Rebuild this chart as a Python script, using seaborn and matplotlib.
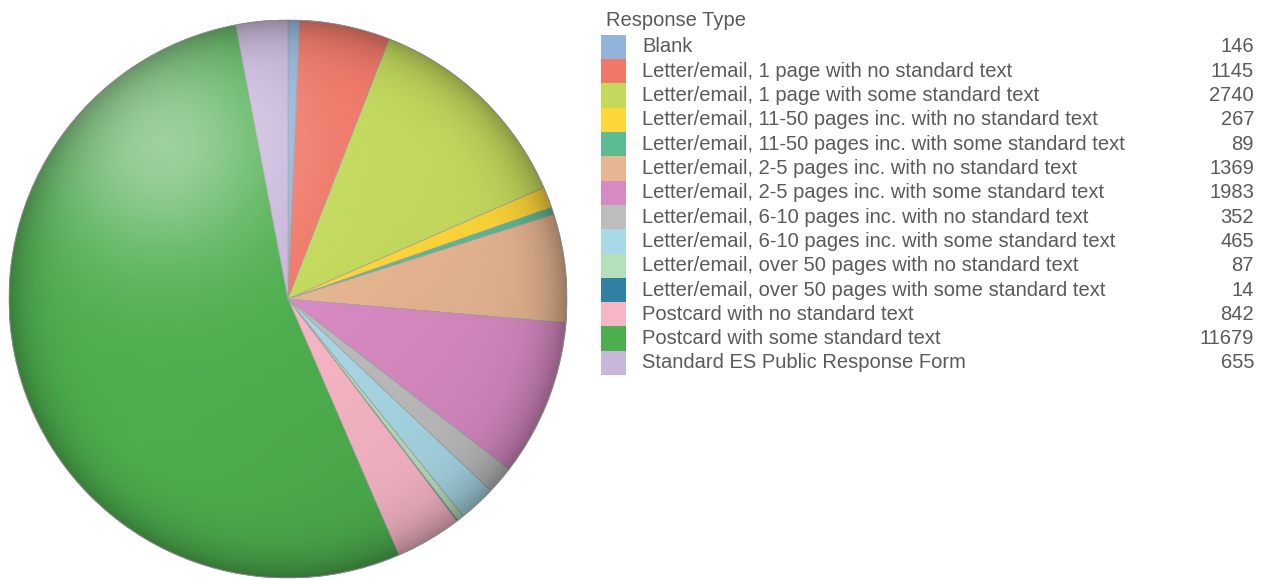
import numpy as np
import matplotlib
matplotlib.use("Agg")
import matplotlib.pyplot as plt
from matplotlib.patches import Rectangle, Circle
import seaborn as sns

sns.set_theme(style="white")
plt.rcParams["font.family"] = ["Liberation Sans", "DejaVu Sans"]

# Response categories, counts and slice colours
categories = [
    "Blank",
    "Letter/email, 1 page with no standard text",
    "Letter/email, 1 page with some standard text",
    "Letter/email, 11-50 pages inc. with no standard text",
    "Letter/email, 11-50 pages inc. with some standard text",
    "Letter/email, 2-5 pages inc. with no standard text",
    "Letter/email, 2-5 pages inc. with some standard text",
    "Letter/email, 6-10 pages inc. with no standard text",
    "Letter/email, 6-10 pages inc. with some standard text",
    "Letter/email, over 50 pages with no standard text",
    "Letter/email, over 50 pages with some standard text",
    "Postcard with no standard text",
    "Postcard with some standard text",
    "Standard ES Public Response Form",
]
counts = [146, 1145, 2740, 267, 89, 1369, 1983, 352, 465, 87, 14, 842, 11679, 655]
colors = [
    "#92B4DB", "#F07868", "#C3D95C", "#FDD63A", "#5DBB92", "#E6B591",
    "#D78AC2", "#BDBDBD", "#A9D8E6", "#B6E0BC", "#2F80A3", "#F7B6C5",
    "#4DAE4E", "#C8B6DB",
]
legend_title = "Response Type"

W, H = 1265, 579
fig = plt.figure(figsize=(W / 100, H / 100), dpi=100)
fig.patch.set_facecolor("white")

# Pie axes placed in pixel units
cx, cy, r = 288, 280, 279  # centre in pixels from bottom
ax = fig.add_axes([(cx - r) / W, (cy - r) / H, 2 * r / W, 2 * r / H])
wedges, _ = ax.pie(
    counts, colors=colors, startangle=90, counterclock=False, radius=1.0,
    wedgeprops=dict(edgecolor="#a0a0a0", linewidth=0.5),
)
ax.set_xlim(-1, 1)
ax.set_ylim(-1, 1)
ax.set_aspect("equal")
ax.axis("off")

# Spherical shading: soft highlight to the upper left and a darkened rim
n = 600
xs = np.linspace(-1, 1, n)
X, Y = np.meshgrid(xs, xs[::-1])
R = np.sqrt(X ** 2 + Y ** 2)
hx, hy = -0.45, 0.56
dh = np.sqrt((X - hx) ** 2 + (Y - hy) ** 2)
light = 0.45 * np.exp(-(dh / 0.42) ** 2)
dark = 0.28 * np.clip(R, 0, 1) ** 12 + 0.10 * np.clip((X - Y) / 2.0, 0, 1)
rgba = np.zeros((n, n, 4))
alpha = np.clip(light + dark, 0, 1)
val = np.where(alpha > 0, light / np.maximum(alpha, 1e-6), 0)
rgba[..., 0] = val
rgba[..., 1] = val
rgba[..., 2] = val
rgba[..., 3] = alpha
im = ax.imshow(rgba, extent=(-1, 1, -1, 1), zorder=5, interpolation="bilinear")
clip = Circle((0, 0), 1.0, transform=ax.transData)
im.set_clip_path(clip)
ax.add_patch(Circle((0, 0), 1.0, fill=False, edgecolor="#8a8a8a", linewidth=0.7, zorder=6))

# Legend drawn in pixel coordinates
lax = fig.add_axes([0, 0, 1, 1])
lax.set_xlim(0, W)
lax.set_ylim(H, 0)
lax.axis("off")
txt_color = "#5a5a5a"
fs = 14.5
lax.text(606, 20, legend_title, fontsize=fs, color=txt_color, va="center", ha="left")
row0, step = 47, 24.3
for i, (lab, val_, col) in enumerate(zip(categories, counts, colors)):
    y = row0 + i * step
    lax.add_patch(Rectangle((601, y - step / 2), 25, step, facecolor=col, edgecolor="none"))
    lax.text(642, y, lab, fontsize=fs, color=txt_color, va="center", ha="left")
    lax.text(1254, y, f"{val_}", fontsize=fs, color=txt_color, va="center", ha="right")

fig.savefig("out.png", dpi=100, facecolor="white")
